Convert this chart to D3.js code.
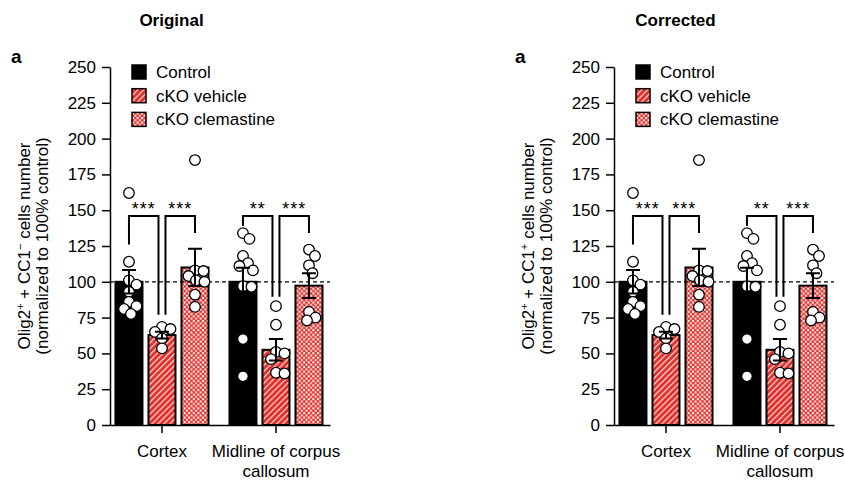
<!DOCTYPE html>
<html>
<head>
<meta charset="utf-8">
<script src="https://cdn.jsdelivr.net/npm/d3@7"></script>
<style>
   body { margin: 0; background: #fff; }
   text { font-family: "Liberation Sans", Arial, Helvetica, sans-serif; fill: #000; }
</style>
</head>
<body>
<svg id="chart" width="845" height="480"></svg>
<script>

var groups = ["Cortex", "Midline of corpus callosum"];
var groupLines = [["Cortex"], ["Midline of corpus", "callosum"]];
var series = ["Control", "cKO vehicle", "cKO clemastine"];
var yTicks = [0, 25, 50, 75, 100, 125, 150, 175, 200, 225, 250];

var cortexMeans = [100, 62.8, 110];
var cortexSems = [8.2, 2.4, 13];
var midlineMeans = [100, 52.5, 97.3];
var midlineSems = [9.8, 7.5, 8.6];

var cortexDots = [
   [162, 114, 101, 98, 93, 86, 83, 81, 77.5],
   [68.5, 67, 65, 60.5, 53.5],
   [185, 108, 107.5, 104, 101, 100, 91, 82.5]
];
var midlineDots = [
   [134, 130, 118, 113, 111, 108, 97, 96.5, 60, 34],
   [83, 70, 51, 50, 46, 36.5, 36],
   [122.5, 118, 111.5, 106, 79, 75, 73]
];

// significance: pairs of series compared inside each group
var sigPairs = [[0, 1], [1, 2]];
var sigStars = [["***", "***"], ["**", "***"]];
var sigTop = 146;
var sigLegs = [[[126, 77], [77, 134]], [[139, 89.5], [89.5, 134]]];

var red = "#e4302a";
var svg = d3.select("#chart");

function swarm(vals, y, minDist) {
   var placed = [];
   var xs = [];
   var order = d3.range(vals.length).sort(function(a, b) { return vals[b] - vals[a]; });

   order.forEach(function(i) {
      var py = y(vals[i]), off = 0;
      for (var k = 0; k < 400; k++) {
         off = (k % 2 ? 1 : -1) * Math.ceil(k / 2) * 0.5;
         var ok = placed.every(function(p) {
            return Math.hypot(p.x - off, p.y - py) >= minDist;
         });
         if (ok) break;
      }
      placed.push({x: off, y: py});
      xs[i] = off;
   });
   return xs;
}

function drawPanel(params) {

   var margin = {left: 110, top: 67};
   var width = 220, height = 358;

   var root = svg.append("g").attr("transform", "translate(" + params.offset + ",0)");
   var defs = root.append("defs");

   var stripe = defs.append("pattern")
      .attr("id", params.id + "-stripe")
      .attr("patternUnits", "userSpaceOnUse")
      .attr("width", 4.2).attr("height", 4.2)
      .attr("patternTransform", "rotate(45)");
   stripe.append("rect").attr("width", 4.2).attr("height", 4.2).attr("fill", red);
   stripe.append("line")
      .attr("x1", 0.6).attr("x2", 0.6).attr("y1", 0).attr("y2", 4.2)
      .attr("stroke", "#fff").attr("stroke-width", 1);

   var check = defs.append("pattern")
      .attr("id", params.id + "-check")
      .attr("patternUnits", "userSpaceOnUse")
      .attr("width", 4.6).attr("height", 4.6);
   check.append("rect").attr("width", 4.6).attr("height", 4.6).attr("fill", red);
   check.append("rect").attr("width", 2).attr("height", 2).attr("fill", "#fff");
   check.append("rect").attr("x", 2.3).attr("y", 2.3).attr("width", 2).attr("height", 2).attr("fill", "#fff");

   var fills = ["#000", "url(#" + params.id + "-stripe)", "url(#" + params.id + "-check)"];

   var g = root.append("g").attr("transform", "translate(" + margin.left + "," + margin.top + ")");

   var y = d3.scaleLinear().domain([0, 250]).range([height, 0]);
   var x0 = d3.scaleBand().domain(groups).range([0, width])
      .paddingInner(0.1).paddingOuter(0.015).align(0.2);
   var x1 = d3.scaleBand().domain(series).range([0, x0.bandwidth()])
      .paddingInner(0.182).paddingOuter(0.145);

   var means = [cortexMeans, midlineMeans];
   var sems = [cortexSems, midlineSems];
   var dots = [cortexDots, midlineDots];

   var rows = [];
   groups.forEach(function(gname, gi) {
      series.forEach(function(s, si) {
         rows.push({group: gname, series: s, si: si,
            mean: means[gi][si], sem: sems[gi][si], dots: dots[gi][si]});
      });
   });

   function cx(d) { return x0(d.group) + x1(d.series) + x1.bandwidth() / 2; }

   // bars
   g.selectAll(".bar").data(rows).enter().append("rect")
      .attr("x", function(d) { return x0(d.group) + x1(d.series) })
      .attr("y", function(d) { return y(d.mean) })
      .attr("width", x1.bandwidth())
      .attr("height", function(d) { return height - y(d.mean) })
      .attr("fill", function(d) { return fills[d.si] })
      .attr("stroke", "#000")
      .attr("stroke-width", 2);

   // 100% reference
   g.append("line")
      .attr("x1", 0).attr("x2", width)
      .attr("y1", y(100)).attr("y2", y(100))
      .attr("stroke", "#000")
      .attr("stroke-width", 1.3)
      .attr("stroke-dasharray", "4,3");

   // significance brackets
   groups.forEach(function(gname, gi) {
      sigPairs.forEach(function(pair, pi) {
         var gap = 3.5;
         var xa = x0(gname) + x1(series[pair[0]]) + x1.bandwidth() / 2 + (pair[0] == 1 ? gap : 0);
         var xb = x0(gname) + x1(series[pair[1]]) + x1.bandwidth() / 2 - (pair[1] == 1 ? gap : 0);
         var legs = sigLegs[gi][pi];
         g.append("path")
            .attr("d", "M" + xa + "," + y(legs[0]) + "V" + y(sigTop) + "H" + xb + "V" + y(legs[1]))
            .attr("fill", "none")
            .attr("stroke", "#000")
            .attr("stroke-width", 2);
         g.append("text")
            .attr("x", (xa + xb) / 2)
            .attr("y", y(sigTop) - 1)
            .attr("text-anchor", "middle")
            .style("font-size", "18px")
            .style("letter-spacing", "1px")
            .text(sigStars[gi][pi]);
      });
   });

   // individual points
   rows.forEach(function(d) {
      var xs = swarm(d.dots, y, 8.5);
      g.selectAll(null).data(d.dots).enter().append("circle")
         .attr("cx", function(v, i) { return cx(d) + xs[i] })
         .attr("cy", function(v) { return y(v) })
         .attr("r", 5.3)
         .attr("fill", "#fff")
         .attr("stroke", "#000")
         .attr("stroke-width", 1.3);
   });

   // error bars
   var cap = 7;
   g.selectAll(".err").data(rows).enter().append("path")
      .attr("d", function(d) {
         var c = cx(d), lo = y(d.mean - d.sem), hi = y(d.mean + d.sem);
         return "M" + (c - cap) + "," + hi + "H" + (c + cap) +
            "M" + c + "," + hi + "V" + lo +
            "M" + (c - cap) + "," + lo + "H" + (c + cap);
      })
      .attr("fill", "none")
      .attr("stroke", "#000")
      .attr("stroke-width", 2);

   // axes
   var yAxis = g.append("g")
      .call(d3.axisLeft(y).tickValues(yTicks).tickSize(8).tickSizeOuter(0).tickPadding(6));

   var xAxis = g.append("g")
      .attr("transform", "translate(0," + height + ")")
      .call(d3.axisBottom(x0).tickSize(8).tickSizeOuter(0).tickPadding(12));

   xAxis.selectAll(".tick text").each(function(d, i) {
      var t = d3.select(this).text(null).attr("dy", null);
      groupLines[i].forEach(function(line, li) {
         t.append("tspan").attr("x", 0).attr("dy", li ? "1.2em" : "0.71em").text(line);
      });
   });

   [yAxis, xAxis].forEach(function(ax) {
      ax.selectAll("path, line").attr("stroke", "#000").attr("stroke-width", 1.5);
      ax.selectAll("text").style("font-size", "17px").attr("fill", "#000");
      ax.attr("font-family", null);
   });

   // legend
   var legend = g.append("g").attr("transform", "translate(22,-2)");
   series.forEach(function(s, i) {
      var row = legend.append("g").attr("transform", "translate(0," + (i * 23.7) + ")");
      row.append("rect")
         .attr("width", 14).attr("height", 14)
         .attr("fill", fills[i])
         .attr("stroke", "#000")
         .attr("stroke-width", 1.5);
      row.append("text")
         .attr("x", 24).attr("y", 13)
         .style("font-size", "17px")
         .text(s);
   });

   // y title
   var t1 = root.append("text")
      .attr("transform", "translate(30," + (margin.top + height / 2) + ") rotate(-90)")
      .attr("text-anchor", "middle")
      .style("font-size", "17px");
   t1.append("tspan").text("Olig2");
   t1.append("tspan").attr("dy", -6).style("font-size", "11px").text("+");
   t1.append("tspan").attr("dy", 6).text(" + CC1");
   t1.append("tspan").attr("dy", -6).style("font-size", "11px").text(params.cc1Sign);
   t1.append("tspan").attr("dy", 6).text(" cells number");

   root.append("text")
      .attr("transform", "translate(48," + (margin.top + height / 2) + ") rotate(-90)")
      .attr("text-anchor", "middle")
      .style("font-size", "17px")
      .text("(normalized to 100% control)");

   root.append("text")
      .attr("x", 171.5).attr("y", 26)
      .attr("text-anchor", "middle")
      .style("font-size", "17px")
      .style("font-weight", "bold")
      .text(params.title);

   root.append("text")
      .attr("x", 11).attr("y", 63)
      .style("font-size", "19px")
      .style("font-weight", "bold")
      .text("a");
}

drawPanel({offset: 0, id: "orig", title: "Original", cc1Sign: "\u2212"});
drawPanel({offset: 504, id: "corr", title: "Corrected", cc1Sign: "+"});

</script>
</body>
</html>
